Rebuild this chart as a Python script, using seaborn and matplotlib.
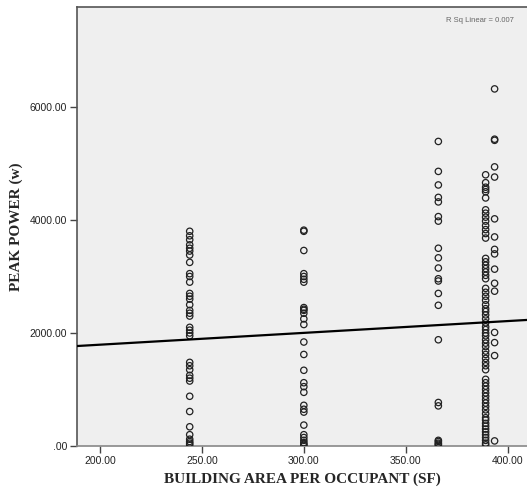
"""
Scatter of peak power against building area per occupant, with linear fit line.
"""

import matplotlib
matplotlib.use("Agg")
import matplotlib.pyplot as plt
import numpy as np
import pandas as pd
import seaborn as sns

# Building area per occupant (SF) for each column of points
AREA_A = 244.0
AREA_B = 300.0
AREA_C = 366.0
AREA_D = 389.2
AREA_E = 393.6

# Peak power readings (W), one list per column
power_a = [3800, 3720, 3650, 3560, 3500, 3450, 3380, 3250, 3050, 3000, 2900,
           2700, 2650, 2600, 2500, 2400, 2350, 2300, 2100, 2050, 2000, 1950,
           1480, 1420, 1350, 1250, 1200, 1150, 880, 610, 340, 200, 120, 80,
           50, 20]
power_b = [3820, 3800, 3460, 3050, 3000, 2950, 2900, 2450, 2420, 2400, 2350,
           2250, 2150, 1840, 1620, 1340, 1120, 1050, 950, 720, 650, 600, 370,
           200, 150, 100, 60, 30, 10]
power_c = [5390, 4860, 4620, 4400, 4320, 4060, 3980, 3500, 3330, 3150, 2960,
           2920, 2700, 2490, 1880, 770, 710, 100, 80, 50, 30, 10]
power_d = [4800, 4660, 4580, 4540, 4500, 4390, 4180, 4120, 4050, 3980, 3900,
           3830, 3760, 3680, 3320, 3260, 3200, 3140, 3080, 3020, 2960, 2790,
           2720, 2650, 2580, 2500, 2430, 2380, 2320, 2250, 2180, 2110, 2060,
           2000, 1950, 1880, 1820, 1760, 1680, 1620, 1550, 1480, 1420, 1350,
           1180, 1120, 1060, 1000, 940, 880, 820, 760, 700, 640, 570, 500, 460,
           400, 350, 300, 250, 200, 150, 100, 50, 20]
power_e = [6320, 5430, 5410, 4940, 4760, 4020, 3700, 3480, 3400, 3130, 2880,
           2740, 2010, 1830, 1600, 90]

# Linear fit as drawn in the picture
fit_intercept = 1375.0
fit_slope = 2.09

x_ticks = [200, 250, 300, 350, 400]
x_tick_labels = ["200.00", "250.00", "300.00", "350.00", "400.00"]
y_ticks = [0, 2000, 4000, 6000]
y_tick_labels = [".00", "2000.00", "4000.00", "6000.00"]
r2_label = "R Sq Linear = 0.007"

rows = []
for area, powers in [(AREA_A, power_a), (AREA_B, power_b), (AREA_C, power_c),
                     (AREA_D, power_d), (AREA_E, power_e)]:
    for p in powers:
        rows.append({"area": area, "power": p})
df = pd.DataFrame(rows)

sns.set_style("white")
plt.rcParams["font.family"] = ["Liberation Sans", "DejaVu Sans"]

fig = plt.figure(figsize=(5.27, 4.95), dpi=100)
ax = fig.add_axes([0.1461, 0.099, 0.8539, 0.8869])
ax.set_facecolor("#efefef")

sns.scatterplot(
    data=df,
    x="area",
    y="power",
    ax=ax,
    marker="o",
    s=21,
    facecolor="none",
    edgecolor="#222222",
    linewidth=0.9,
    zorder=3,
)

xlim = (188.7, 409.5)
line_x = np.array(xlim)
ax.plot(line_x, fit_intercept + fit_slope * line_x, color="black", lw=1.6, zorder=4)

ax.set_xlim(*xlim)
ax.set_ylim(0, 7770)
ax.set_xticks(x_ticks)
ax.set_xticklabels(x_tick_labels)
ax.set_yticks(y_ticks)
ax.set_yticklabels(y_tick_labels)
ax.tick_params(axis="both", direction="out", length=5, width=1, color="#444444",
               labelsize=7.5, labelcolor="#222222", pad=2,
               bottom=True, left=True)

for side in ["left", "top"]:
    ax.spines[side].set_color("#555555")
    ax.spines[side].set_linewidth(1.2)
ax.spines["bottom"].set_color("#888888")
ax.spines["bottom"].set_linewidth(1.2)
ax.spines["right"].set_visible(False)

ax.text(0.97, 0.978, r2_label, transform=ax.transAxes, ha="right", va="top",
        fontsize=5.5, color="#666666")

serif = ["Liberation Serif", "DejaVu Serif"]
ax.set_xlabel("BUILDING AREA PER OCCUPANT (SF)", fontsize=11, fontweight="bold",
              family=serif, labelpad=5)
ax.set_ylabel("PEAK POWER (w)", fontsize=11, fontweight="bold",
              family=serif, labelpad=5)

fig.savefig("out.png", dpi=100)
